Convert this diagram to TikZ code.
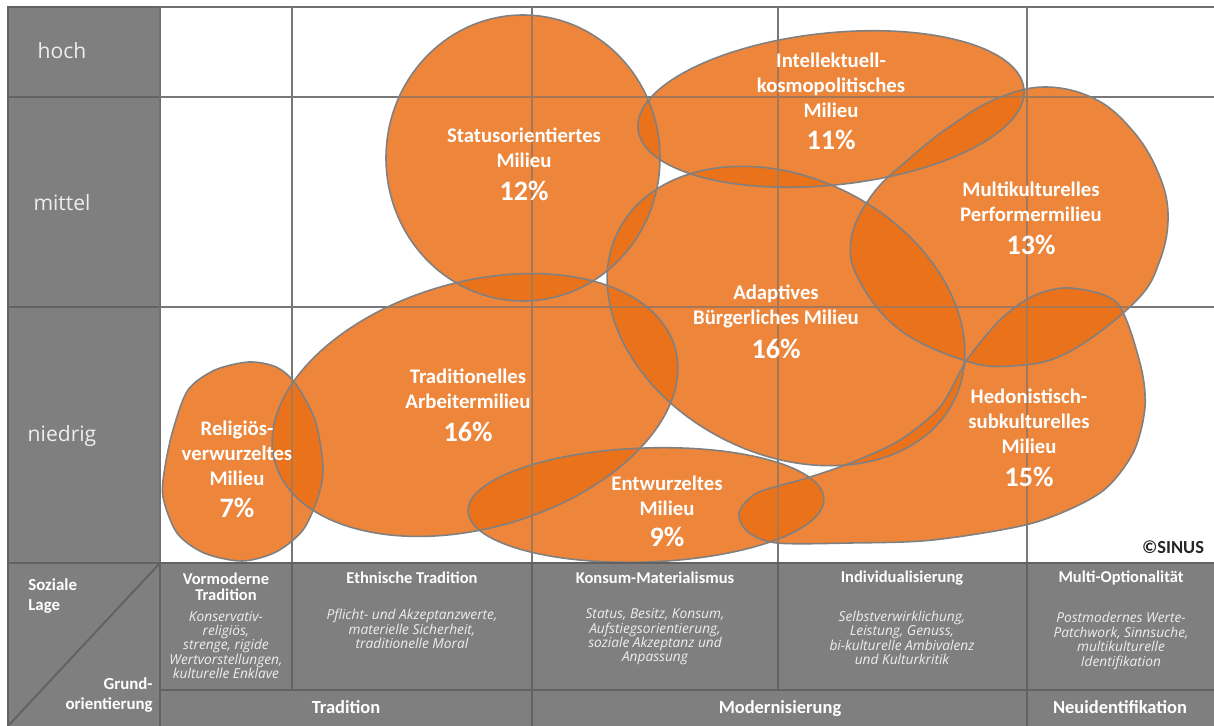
\documentclass[tikz,border=0pt]{standalone}
\usepackage{fontspec}
\setmainfont{Carlito}
\newfontfamily\opensans{Open Sans}
\usetikzlibrary{positioning}

\definecolor{panelgray}{RGB}{128,127,128}
\definecolor{edgegray}{RGB}{98,98,98}
\definecolor{linegray}{RGB}{112,112,112}
\definecolor{blobline}{RGB}{128,128,128}
\definecolor{milieuorange}{RGB}{233,110,20}
\definecolor{notewhite}{RGB}{238,238,238}

% milieu outlines, in pixels of the chart
\def\religious{plot[smooth cycle] coordinates {(249,362) (276,367) (295,383) (315,420) (323,467) (318,497) (303,530) (276,552) (242,561) (204,553) (177,533) (163,497) (165,467) (173,430) (188,390) (215,370)}}
\def\status{(523,158) ellipse [x radius=137, y radius=143]}
\def\intell{[rotate around={6:(831,109)}] (831,109) ellipse [x radius=194, y radius=76]}
\def\multi{plot[smooth cycle, tension=0.65] coordinates {(1045,87) (1095,99) (1132,130) (1157,170) (1168,213) (1160,260) (1135,302) (1067,353) (1010,366) (963,360) (900,330) (860,282) (851,240) (872,195) (910,158) (952,125) (996,99)}}
\def\adaptive{[rotate around={-27:(786,316)}] (786,316) ellipse [x radius=188, y radius=138]}
\def\traditional{[rotate around={16:(475,405)}] (475,405) ellipse [x radius=208, y radius=123]}
\def\uprooted{[rotate around={2:(646,505)}] (646,505) ellipse [x radius=178, y radius=57]}
\def\hedon{plot[smooth cycle] coordinates {(1070,288) (1117,303) (1140,363) (1145,407) (1133,453) (1100,493) (1033,523) (933,540) (850,543) (777,543) (748,532) (739,513) (757,493) (807,478) (853,462) (900,440) (940,407) (967,360) (1000,320) (1033,296)}}

\begin{document}
\begin{tikzpicture}[x=0.02cm, y=-0.02cm,
    panel/.style={fill=panelgray, draw=edgegray, line width=1.1pt},
    grid/.style={draw=linegray, line width=0.85pt},
    gridover/.style={draw=blobline, line width=0.85pt, opacity=0.55},
    blob/.style={fill=milieuorange, fill opacity=0.835},
    rim/.style={draw=blobline, line width=0.9pt},
    milieu/.style={text=white, align=center, inner sep=0pt,
        font=\bfseries\fontsize{11.8}{14.2}\selectfont},
    share/.style={text=white, inner sep=0pt, font=\bfseries\fontsize{16}{19}\selectfont},
    level/.style={text=notewhite, inner sep=0pt, font=\opensans\fontsize{12}{14}\selectfont},
    head/.style={text=white, align=center, inner sep=0pt, font=\bfseries\fontsize{9.4}{9.1}\selectfont},
    values/.style={text=notewhite, align=center, inner sep=0pt,
        font=\opensans\itshape\fontsize{7.8}{8.2}\selectfont},
    axis/.style={text=white, inner sep=0pt, anchor=base, font=\bfseries\fontsize{10.5}{12}\selectfont},
    corner/.style={text=white, inner sep=0pt, font=\bfseries\fontsize{9.6}{11.3}\selectfont}]
\useasboundingbox (0,0) rectangle (1214,726);

% soziale Lage
\draw[panel] (8,7) rectangle (160,97);
\draw[panel] (8,97) rectangle (160,307);
\draw[panel] (8,307) rectangle (160,563);
\node[level] (hoch) at (62,51) {hoch};
\node[level] (mittel) at (62,203) {mittel};
\node[level] (niedrig) at (62,436) {niedrig};

% grid under the milieus
\draw[grid] (160,7) -- (1214,7);
\foreach \y in {97,307} \draw[grid] (160,\y) -- (1214,\y);
\foreach \x in {160,292,532,778,1027} \draw[grid] (\x,7) -- (\x,563);

% milieus
\foreach \m in {\religious,\status,\intell,\multi,\adaptive,\traditional,\uprooted,\hedon}
  \fill[blob] \m;
\foreach \m in {\religious,\status,\intell,\multi,\adaptive,\traditional,\uprooted,\hedon}
  \draw[rim] \m;

% grid seen through the milieus
\foreach \y in {97,307} \draw[gridover] (160,\y) -- (1214,\y);
\foreach \x in {292,532,778,1027} \draw[gridover] (\x,7) -- (\x,563);

\node[milieu] (status) at (524,148) {Statusorientiertes\\Milieu};
\node[share] (status-p) at (524,191) {12\%};
\node[milieu] (intell) at (831,85) {Intellektuell-\\kosmopolitisches\\Milieu};
\node[share] (intell-p) at (831,140) {11\%};
\node[milieu] (multi) at (1031,202) {Multikulturelles\\Performermilieu};
\node[share] (multi-p) at (1031,245) {13\%};
\node[milieu] (adapt) at (776,306) {Adaptives\\Bürgerliches Milieu};
\node[share] (adapt-p) at (776,349) {16\%};
\node[milieu] (trad) at (468,389) {Traditionelles\\Arbeitermilieu};
\node[share] (trad-p) at (468,432) {16\%};
\node[milieu] (relig) at (237,453) {Religiös-\\verwurzeltes\\Milieu};
\node[share] (relig-p) at (237,508) {7\%};
\node[milieu] (entw) at (667,496) {Entwurzeltes\\Milieu};
\node[share] (entw-p) at (667,537) {9\%};
\node[milieu] (hedon) at (1029,421) {Hedonistisch-\\subkulturelles\\Milieu};
\node[share] (hedon-p) at (1029,477) {15\%};
\node[text=black!85, inner sep=0pt, font=\bfseries\fontsize{10.5}{12}\selectfont] (sinus) at (1173,547) {©SINUS};

% Grundorientierung
\fill[panelgray] (8,563) rectangle (1214,726);
\draw[edgegray, line width=1.1pt] (8,563) -- (1214,563) (160,690) -- (1214,690)
  (8,563) -- (8,726) (8,726) -- (160,563);
\foreach \x in {160,292,532,778,1027} \draw[edgegray, line width=1.1pt] (\x,563) -- (\x,690);
\foreach \x in {160,532,1027} \draw[edgegray, line width=1.1pt] (\x,690) -- (\x,726);

\node[corner, align=left, anchor=west] (lage) at (28,596) {Soziale\\Lage};
\node[corner, align=right, anchor=east] (grund) at (153,695) {Grund-\\orientierung};

\node[head] (vormod) at (226,587) {Vormoderne\\Tradition};
\node[values] (vormod-w) at (226,645) {Konservativ-\\religiös,\\strenge, rigide\\Wertvorstellungen,\\kulturelle Enklave};
\node[head] (ethn) at (412,578) {Ethnische Tradition};
\node[values] (ethn-w) at (412,629) {Pflicht- und Akzeptanzwerte,\\materielle Sicherheit,\\traditionelle Moral};
\node[head] (konsum) at (655,578) {Konsum-Materialismus};
\node[values] (konsum-w) at (655,637) {Status, Besitz, Konsum,\\Aufstiegsorientierung,\\soziale Akzeptanz und\\Anpassung};
\node[head] (indiv) at (902,578) {Individualisierung};
\node[values] (indiv-w) at (902,638) {Selbstverwirklichung,\\Leistung, Genuss,\\bi-kulturelle Ambivalenz\\und Kulturkritik};
\node[head] (multiopt) at (1121,578) {Multi-Optionalität};
\node[values] (multiopt-w) at (1121,641) {Postmodernes Werte-\\Patchwork, Sinnsuche,\\multikulturelle\\Identifikation};

\node[axis] (tradition) at (346,713) {Tradition};
\node[axis] (modern) at (780,713) {Modernisierung};
\node[axis] (neuid) at (1120,713) {Neuidentifikation};
\end{tikzpicture}
\end{document}
